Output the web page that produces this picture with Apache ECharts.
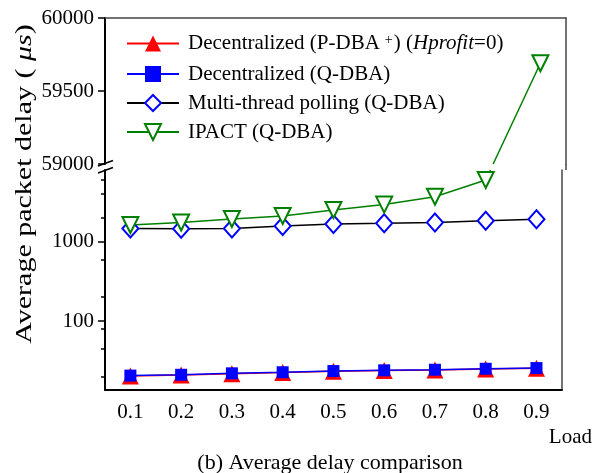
<!DOCTYPE html>
<html><head><meta charset="utf-8">
<script src="https://cdn.jsdelivr.net/npm/echarts@6/dist/echarts.min.js"></script>
<style>html,body{margin:0;padding:0;background:#fff}#c{width:593px;height:473px}</style>
</head><body><div id="c"></div>
<script>
// ---- data ----
const loads = ['0.1','0.2','0.3','0.4','0.5','0.6','0.7','0.8','0.9'];
const pdbaPlusDelay = [20.3, 20.9, 21.7, 22.5, 23.2, 23.8, 24.2, 24.9, 25.4];
const qdbaDelay = [20.5, 21.0, 21.9, 22.6, 23.4, 23.9, 24.3, 25.0, 25.5];
const multiThreadDelay = [1470, 1450, 1460, 1570, 1670, 1700, 1740, 1840, 1920];
const ipactDelay = [1620, 1740, 1930, 2110, 2510, 2930, 3690, 6000, 59690];
const upperTickValues = [59000, 59500, 60000];
const lowerMajorTicks = [100, 1000];
const lowerMinorTicks = [20, 45, 80, 200, 600, 2000, 4000, 6000];
const seriesNames = [
  'Decentralized (P-DBA+) (Hprofit=0)',
  'Decentralized (Q-DBA)',
  'Multi-thread polling (Q-DBA)',
  'IPACT (Q-DBA)'
];
const legendRich = {
  'Decentralized (P-DBA+) (Hprofit=0)': '{n|Decentralized (P-DBA}{sup|+}{n|) (}{i|Hprofit}{n|=0)}',
  'Decentralized (Q-DBA)': '{n|Decentralized (Q-DBA)}',
  'Multi-thread polling (Q-DBA)': '{n|Multi-thread polling (Q-DBA)}',
  'IPACT (Q-DBA)': '{n|IPACT (Q-DBA)}'
};
const upperMin = 59000, upperMax = 60000, upperInterval = 500;
const lowerMin = 13.5, lowerMax = 8000;

// ---- layout / style ----
const FF = 'Liberation Serif';
const FS = 21;
const GL = 105, GR = 27;
const G0 = {top: 18, height: 146};
const G1 = {top: 170, height: 220};
const frameColor = '#444';

const chart = echarts.init(document.getElementById('c'), null, {renderer: 'canvas'});

const labelStyle = {fontFamily: FF, fontSize: FS, color: '#000'};
const ipactStyle = {
  type: 'line', name: seriesNames[3], symbol: 'triangle', symbolRotate: 180, symbolSize: 16,
  itemStyle: {color: '#fff', borderColor: '#008000', borderWidth: 2},
  lineStyle: {color: '#008000', width: 1.5},
  connectNulls: false, animation: false, z: 3
};

const option = {
  animation: false,
  backgroundColor: '#fff',
  grid: [
    {left: GL, right: GR, top: G0.top, height: G0.height},
    {left: GL, right: GR, top: G1.top, height: G1.height}
  ],
  legend: {
    orient: 'vertical', left: 121, top: 28, itemWidth: 52, itemHeight: 20, itemGap: 8,
    selectedMode: false, data: seriesNames,
    formatter: n => legendRich[n],
    textStyle: {
      fontFamily: FF, fontSize: FS, color: '#000', lineHeight: 20, padding: [0, 0, 0, 4],
      rich: {
        n: {fontFamily: FF, fontSize: FS, color: '#000', lineHeight: 20},
        i: {fontFamily: FF, fontSize: FS, color: '#000', fontStyle: 'italic', lineHeight: 20},
        sup: {fontFamily: FF, fontSize: 14, color: '#000', lineHeight: 6, verticalAlign: 'top', padding: [0, 1, 8, 5]}
      }
    }
  },
  xAxis: [
    {gridIndex: 0, type: 'category', data: loads, position: 'top', boundaryGap: true,
     axisLine: {lineStyle: {color: frameColor, width: 1.5}}, axisTick: {show: false}, axisLabel: {show: false}},
    {gridIndex: 1, type: 'category', data: loads, position: 'bottom', boundaryGap: true,
     axisLine: {lineStyle: {color: '#000', width: 2}},
     axisTick: {alignWithLabel: true, length: 6, lineStyle: {color: '#000', width: 1.5}},
     axisLabel: Object.assign({margin: 12}, labelStyle),
     name: 'Load', nameLocation: 'end', nameGap: -13,
     nameTextStyle: {fontFamily: FF, fontSize: FS, color: '#000', align: 'left', verticalAlign: 'top', padding: [37, 0, 0, 0]}}
  ],
  yAxis: [
    {gridIndex: 0, type: 'value', min: upperMin, max: upperMax, interval: upperInterval, position: 'left',
     axisLine: {show: true, lineStyle: {color: '#000', width: 2}},
     axisTick: {show: true, inside: false, length: 7, lineStyle: {color: '#000', width: 1.5}, customValues: upperTickValues},
     axisLabel: Object.assign({margin: 11, formatter: v => String(v), customValues: upperTickValues}, labelStyle),
     splitLine: {show: false}},
    {gridIndex: 0, type: 'value', min: upperMin, max: upperMax, position: 'right',
     axisLine: {show: true, lineStyle: {color: frameColor, width: 1.5}},
     axisTick: {show: false}, axisLabel: {show: false}, splitLine: {show: false}},
    {gridIndex: 1, type: 'log', logBase: 10, min: lowerMin, max: lowerMax, position: 'left',
     axisLine: {show: true, lineStyle: {color: '#000', width: 2}},
     axisTick: {show: true, inside: false, length: 7, lineStyle: {color: '#000', width: 1.5}, customValues: lowerMajorTicks},
     axisLabel: Object.assign({margin: 11, formatter: v => String(Math.round(v)), customValues: lowerMajorTicks}, labelStyle),
     splitLine: {show: false}},
    {gridIndex: 1, type: 'log', logBase: 10, min: lowerMin, max: lowerMax, position: 'left',
     axisLine: {show: false},
     axisTick: {show: true, inside: false, length: 4, lineStyle: {color: '#000', width: 1.5}, customValues: lowerMinorTicks},
     axisLabel: {show: false}, splitLine: {show: false}},
    {gridIndex: 1, type: 'log', logBase: 10, min: lowerMin, max: lowerMax, position: 'right',
     axisLine: {show: true, lineStyle: {color: frameColor, width: 1.5}},
     axisTick: {show: false}, axisLabel: {show: false}, splitLine: {show: false}}
  ],
  series: [
    {type: 'line', name: seriesNames[0], xAxisIndex: 1, yAxisIndex: 2, data: pdbaPlusDelay,
     symbol: 'triangle', symbolSize: 17, itemStyle: {color: '#ff0000'}, lineStyle: {color: '#ff0000', width: 1.5}},
    {type: 'line', name: seriesNames[1], xAxisIndex: 1, yAxisIndex: 2, data: qdbaDelay,
     symbol: 'rect', symbolSize: 12, itemStyle: {color: '#0000ff'}, lineStyle: {color: '#0000ff', width: 1.5}},
    {type: 'line', name: seriesNames[2], xAxisIndex: 1, yAxisIndex: 2, data: multiThreadDelay,
     symbol: 'diamond', symbolSize: [16, 18], itemStyle: {color: '#fff', borderColor: '#0000ff', borderWidth: 2},
     lineStyle: {color: '#000', width: 1.5}},
    Object.assign({}, ipactStyle, {xAxisIndex: 1, yAxisIndex: 2, data: ipactDelay.map(v => v < upperMin ? v : null)}),
    Object.assign({}, ipactStyle, {xAxisIndex: 0, yAxisIndex: 0, data: ipactDelay.map(v => v >= upperMin ? v : null)})
  ],
  graphic: [
    {type: 'text', id: 'yname', x: 25, y: 184, rotation: Math.PI / 2, scaleY: 0.8,
     style: {text: '{n|Average packet delay ( }{i|μs}{n|)}', align: 'center', verticalAlign: 'middle',
       rich: {n: {fontFamily: FF, fontSize: 30, fill: '#000'}, i: {fontFamily: FF, fontSize: 30, fontStyle: 'italic', fill: '#000'}}}},
    {type: 'text', id: 'title', x: 330, y: 463,
     style: {text: '(b) Average delay comparison', fontFamily: FF, fontSize: 22, fill: '#000', align: 'center', verticalAlign: 'middle'}},
    {type: 'line', id: 'rgap', shape: {x1: 593 - GR, y1: G0.top + G0.height, x2: 593 - GR, y2: G1.top}, style: {stroke: frameColor, lineWidth: 1.5}},
    {type: 'line', id: 'brk1', shape: {x1: 98, y1: 166, x2: 113, y2: 160.5}, style: {stroke: '#000', lineWidth: 1.5}},
    {type: 'line', id: 'brk2', shape: {x1: 98, y1: 173, x2: 113, y2: 167.5}, style: {stroke: '#000', lineWidth: 1.5}}
  ]
};
chart.setOption(option);

// connector of the IPACT line across the axis break (via library scales)
const extra = [];
for (let i = 0; i < ipactDelay.length - 1; i++) {
  if (ipactDelay[i] < upperMin && ipactDelay[i + 1] >= upperMin) {
    const p0 = chart.convertToPixel({seriesIndex: 3}, [loads[i], ipactDelay[i]]);
    const p1 = chart.convertToPixel({seriesIndex: 4}, [loads[i + 1], ipactDelay[i + 1]]);
    const yUpperBottom = chart.convertToPixel({yAxisIndex: 0}, upperMin);
    const yLowerTop = chart.convertToPixel({yAxisIndex: 2}, lowerMax);
    const xAt = y => p0[0] + (p1[0] - p0[0]) * (y - p0[1]) / (p1[1] - p0[1]);
    extra.push({type: 'line', id: 'conU' + i, z: 1,
      shape: {x1: p1[0], y1: p1[1], x2: xAt(yUpperBottom), y2: yUpperBottom}, style: {stroke: '#008000', lineWidth: 1.5}});
    extra.push({type: 'line', id: 'conL' + i, z: 1,
      shape: {x1: xAt(yLowerTop), y1: yLowerTop, x2: p0[0], y2: p0[1]}, style: {stroke: '#008000', lineWidth: 1.5}});
  }
}
chart.setOption({graphic: extra});
</script>
</body></html>
